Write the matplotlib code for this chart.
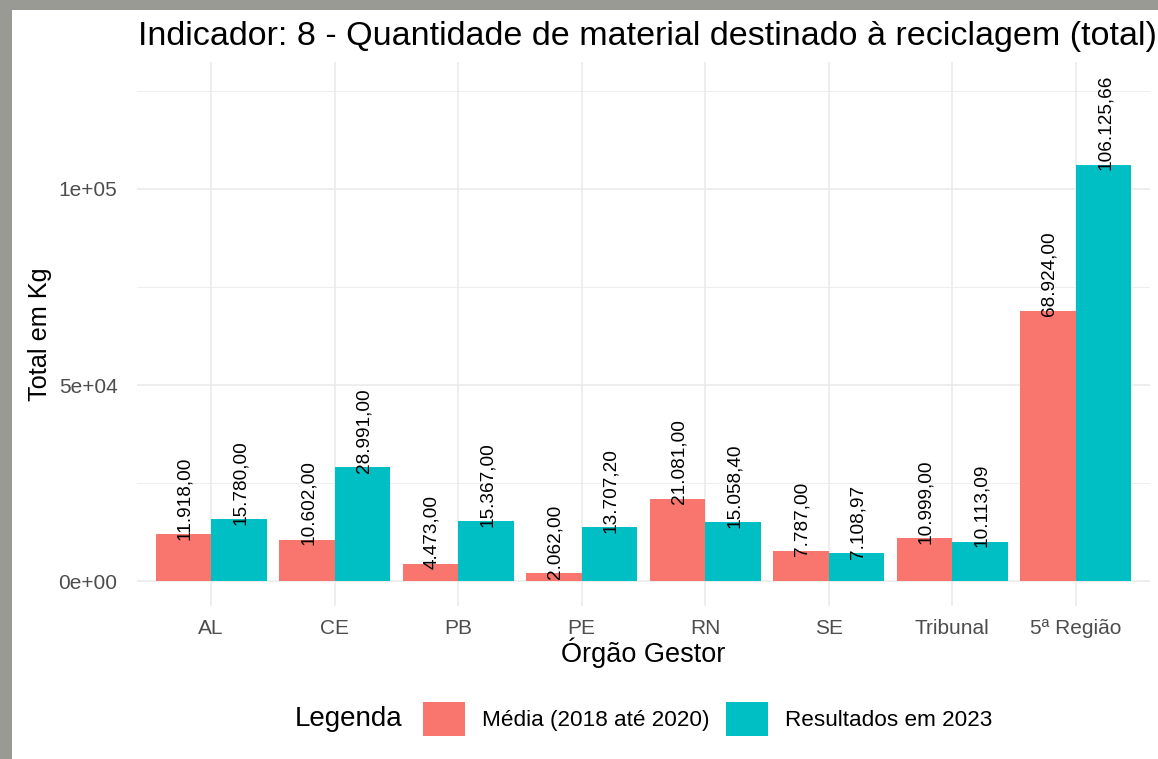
import numpy as np
import matplotlib.pyplot as plt
from matplotlib.patches import Rectangle, Patch
from matplotlib.ticker import MultipleLocator

plt.rcParams['font.family'] = ['Liberation Sans', 'DejaVu Sans']

orgaos = ["AL", "CE", "PB", "PE", "RN", "SE", "Tribunal", "5ª Região"]
media_2018_2020 = [11918.00, 10602.00, 4473.00, 2062.00, 21081.00, 7787.00, 10999.00, 68924.00]
resultados_2023 = [15780.00, 28991.00, 15367.00, 13707.20, 15058.40, 7108.97, 10113.09, 106125.66]
legenda = ["Média (2018 até 2020)", "Resultados em 2023"]
cores = ["#F8766D", "#00BFC4"]


def formata(v):
    # formato brasileiro: 1.234,56
    s = f"{v:,.2f}"
    return s.replace(",", "X").replace(".", ",").replace("X", ".")


fig = plt.figure(figsize=(11.58, 7.59), dpi=100)
fig.patch.set_facecolor("#9a9a94")
fig.patches.append(Rectangle((12 / 1158, 0), 1, 1 - 10 / 759, transform=fig.transFigure,
                             facecolor="white", edgecolor="none", zorder=-10))

ax = fig.add_axes([137 / 1158, 153 / 759, (1150 - 137) / 1158, (606 - 62) / 759])
ax.set_facecolor("white")

x = np.arange(len(orgaos))
w = 0.45
series = [media_2018_2020, resultados_2023]
for i, vals in enumerate(series):
    pos = x + (i - 0.5) * w
    ax.bar(pos, vals, width=w, color=cores[i], zorder=3)
    for xp, v in zip(pos, vals):
        ax.annotate(formata(v), (xp, v), xytext=(1, -4), textcoords="offset points",
                    rotation=90, ha="center", va="bottom", fontsize=13.7, color="black", zorder=4)

ax.set_xlim(-0.6, len(orgaos) - 0.4)
ax.set_ylim(-6300, 132300)
ax.set_xticks(x)
ax.set_xticklabels(orgaos, fontsize=15, color="#4D4D4D")
ax.set_yticks([0, 50000, 100000])
ax.set_yticklabels(["0e+00", "5e+04", "1e+05"], fontsize=15, color="#4D4D4D")
ax.yaxis.set_minor_locator(MultipleLocator(25000))
ax.tick_params(axis="both", which="both", length=0)
ax.tick_params(axis="y", pad=14)
ax.tick_params(axis="x", pad=9)
ax.grid(which="major", color="#EBEBEB", linewidth=1.2, zorder=0)
ax.grid(which="minor", axis="y", color="#EBEBEB", linewidth=0.6, zorder=0)
for s in ax.spines.values():
    s.set_visible(False)

ax.set_xlabel("Órgão Gestor", fontsize=19.5, labelpad=0)
ax.set_ylabel("Total em Kg", fontsize=18.2, labelpad=5)
fig.text(138 / 1158, 1 - 37 / 759, "Indicador: 8 - Quantidade de material destinado à reciclagem (total)",
         fontsize=24.5, ha="left", va="center")

handles = [Patch(facecolor=c, edgecolor="none") for c in cores]
fig.text(295 / 1158, 1 - 719 / 759, "Legenda", fontsize=20, ha="left", va="center")
fig.legend(handles, legenda, loc="center left", bbox_to_anchor=(403 / 1158, 1 - 719 / 759),
           ncol=2, frameon=False, fontsize=16.2, handlelength=1.85, handleheight=2.0,
           columnspacing=0.72, handletextpad=0.77)

fig.savefig("out.png", dpi=100)
